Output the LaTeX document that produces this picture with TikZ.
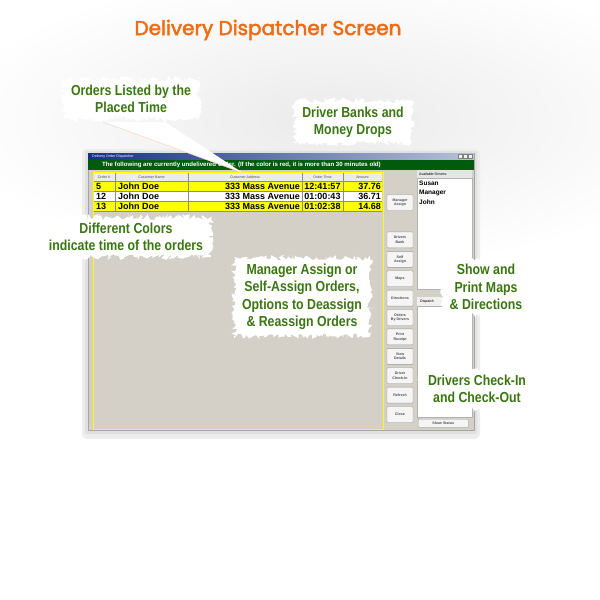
\documentclass[tikz,border=0pt]{standalone}
\usepackage{fontspec}
\setmainfont{Liberation Sans}
\newfontfamily\titlefont[FakeBold=2.5]{Poppins}
\newfontfamily\callfont[FakeStretch=0.85]{Liberation Sans}
\usepackage{xcolor}
\usetikzlibrary{positioning,decorations.pathmorphing}

\definecolor{titleorange}{RGB}{240,108,18}
\definecolor{callgreen}{RGB}{58,118,18}
\definecolor{wingray}{RGB}{212,208,200}
\definecolor{barblue}{RGB}{20,50,130}
\definecolor{bargreen}{RGB}{0,92,12}
\definecolor{rowyellow}{RGB}{255,255,0}

\begin{document}
\begin{tikzpicture}[
  x=1pt, y=-1pt,
  callout/.style={rectangle, fill=white, inner xsep=8pt, inner ysep=6pt, align=center, text=callgreen,
    decorate, decoration={random steps, segment length=1.6pt, amplitude=3pt},
    font=\callfont\bfseries\fontsize{14.5}{17.5}\selectfont},
  hcell/.style={font=\fontsize{3.6}{4}\selectfont, text=black!70, inner sep=0pt},
  cell/.style={font=\bfseries\fontsize{9}{9}\selectfont, inner sep=0pt},
  btn/.style={draw=black!40, fill=black!4, rounded corners=0.8pt, minimum width=26pt, minimum height=16pt,
    inner sep=0pt, align=center, font=\bfseries\fontsize{3.6}{4.4}\selectfont, text=black!70},
  tinytext/.style={font=\fontsize{3.6}{4}\selectfont, inner sep=0pt},
  drv/.style={font=\bfseries\fontsize{6.5}{7}\selectfont, inner sep=0pt, anchor=west}
]
  \useasboundingbox (0,0) rectangle (600,600);
  % background glow
  \shade[inner color=black!8, outer color=white] (330,120) ellipse [x radius=380pt, y radius=150pt];

  % window shadow
  \fill[black!7, rounded corners=5pt] (82,149) rectangle (480,439);
  \fill[black!12, rounded corners=2pt] (85,151) rectangle (477,434);

  % the screen
  \fill[wingray] (88,153) rectangle (474,430);
  \draw[black!35] (88,153) rectangle (474,430);
  \shade[left color=barblue, right color=barblue!30] (88,153) rectangle (474,160);
  \node[tinytext, text=white, anchor=west] (wintitle) at (92,156.5) {Delivery Order Dispatcher};
  \draw[black!50, fill=black!5, line width=0.3pt] (458,154.5) rectangle (462,158.5) (463,154.5) rectangle (467,158.5) (468,154.5) rectangle (472,158.5);
  \fill[bargreen] (88,160) rectangle (474,170);
  \node[font=\bfseries\fontsize{6.1}{6.5}\selectfont, text=white, inner sep=0pt, anchor=west] (notice) at (102,165.3)
    {The following are currently undelivered Order. (If the color is red, it is more than 30 minutes old)};

  % order table
  \draw[rowyellow, line width=1pt] (93,172) rectangle (383,429);
  \fill[black!8] (94,173) rectangle (382,181);
  \fill[rowyellow] (94,181) rectangle (382,191);
  \fill[white] (94,191) rectangle (382,201);
  \fill[rowyellow] (94,201) rectangle (382,211);
  \draw[black!45, line width=0.4pt] (94,181) -- (382,181) (94,191) -- (382,191) (94,201) -- (382,201) (94,211) -- (382,211);
  \draw[black!45, line width=0.4pt] (115,173) -- (115,211) (188,173) -- (188,211) (302,173) -- (302,211) (343,173) -- (343,211);

  \node[hcell] (hnum) at (104,177) {Order \#};
  \node[hcell] (hname) at (151.5,177) {Customer Name};
  \node[hcell] (haddr) at (245,177) {Customer Address};
  \node[hcell] (htime) at (322.5,177) {Order Time};
  \node[hcell] (hamt) at (362.5,177) {Amount};

  \node[cell, anchor=west] (num1) at (96,186) {5};
  \node[cell, anchor=west] (name1) at (118,186) {John Doe};
  \node[cell, anchor=east] (addr1) at (300,186) {333 Mass Avenue};
  \node[cell] (time1) at (322.5,186) {12:41:57};
  \node[cell, anchor=east] (amt1) at (381,186) {37.76};

  \node[cell, anchor=west] (num2) at (96,196) {12};
  \node[cell, anchor=west] (name2) at (118,196) {John Doe};
  \node[cell, anchor=east] (addr2) at (300,196) {333 Mass Avenue};
  \node[cell] (time2) at (322.5,196) {01:00:43};
  \node[cell, anchor=east] (amt2) at (381,196) {36.71};

  \node[cell, anchor=west] (num3) at (96,206) {13};
  \node[cell, anchor=west] (name3) at (118,206) {John Doe};
  \node[cell, anchor=east] (addr3) at (300,206) {333 Mass Avenue};
  \node[cell] (time3) at (322.5,206) {01:02:38};
  \node[cell, anchor=east] (amt3) at (381,206) {14.68};

  % buttons
  \node[btn] (mgr) at (400,202.5) {Manager\\Assign};
  \node[btn, below=21pt of mgr] (bank) {Drivers\\Bank};
  \node[btn, below=3pt of bank] (self) {Self\\Assign};
  \node[btn, below=3pt of self] (maps) {Maps};
  \node[btn, below=3pt of maps] (dirs) {Directions};
  \node[btn, below=3pt of dirs] (bydrv) {Orders\\By Drivers};
  \node[btn, below=3pt of bydrv] (receipt) {Print\\Receipt};
  \node[btn, below=3pt of receipt] (details) {View\\Details};
  \node[btn, below=3pt of details] (checkin) {Driver\\Check-In};
  \node[btn, below=3pt of checkin] (refresh) {Refresh};
  \node[btn, below=3pt of refresh] (close) {Close};

  % drivers panel
  \fill[black!10] (417,170) rectangle (472,178);
  \node[tinytext, anchor=west] (avail) at (419,174) {Available Drivers:};
  \fill[white] (417,178) rectangle (472,289);
  \draw[black!30] (417,178) rectangle (472,289);
  \node[drv] (susan) at (419,183.5) {Susan};
  \node[drv] (manager) at (419,193) {Manager};
  \node[drv] (john) at (419,202.5) {John};
  \fill[black!6] (417,297) rectangle (472,306);
  \node[tinytext, anchor=west] (dispatch) at (420,302) {Dispatch};
  \fill[white] (417,306) rectangle (472,417);
  \draw[black!30] (417,306) rectangle (472,417);
  \node[btn, minimum width=50pt, minimum height=8pt, anchor=north west] (status) at (418,419) {Show Status};

  % pointer beam
  \coordinate (beamL) at (103,122);
  \coordinate (beamR) at (165,122);
  \coordinate (beamtip) at (243,173);
  \fill[white] (beamL) -- (beamR) -- (beamtip) -- cycle;
  \draw[titleorange!30, line width=0.5pt] (beamL) -- (beamtip);

  % callouts
  \node[callout] (orders) at (131,99) {Orders Listed by the\\Placed Time};
  \node[callout] (banks) at (353,122) {Driver Banks and\\Money Drops};
  \node[callout] (colors) at (126,237) {Different Colors\\indicate time of the orders};
  \node[callout] (assign) at (302,297) {Manager Assign or\\Self-Assign Orders,\\Options to Deassign\\\& Reassign Orders};
  \node[callout] (showmaps) at (486,287) {Show and\\Print Maps\\\& Directions};
  \node[callout] (checkio) at (477,389) {Drivers Check-In\\and Check-Out};

  % title
  \node[font=\titlefont\fontsize{20}{22}\selectfont, text=titleorange] (title) at (268,30) {Delivery Dispatcher Screen};
\end{tikzpicture}
\end{document}
